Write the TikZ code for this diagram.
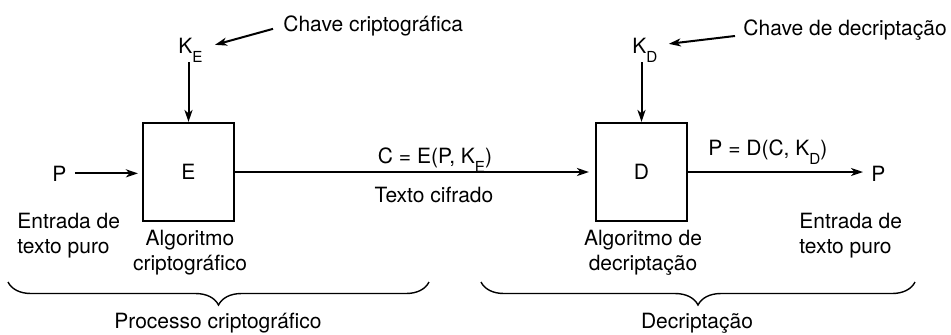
\documentclass[tikz,border=0pt]{standalone}
\usepackage{fontspec}
\setmainfont{TeX Gyre Heros}
\usetikzlibrary{arrows.meta,decorations.pathreplacing}
\newcommand\lsub[1]{\raisebox{-4.5pt}{\fontsize{7.6}{8}\selectfont #1}}
\begin{document}
\begin{tikzpicture}[x=0.5pt,y=-0.5pt]
\tikzset{
  txt/.style={inner sep=0pt, font=\fontsize{10.5}{12.5}\selectfont},
  box/.style={draw, line width=1.05pt, minimum width=45.5pt, minimum height=49pt, inner sep=0pt, font=\fontsize{10.5}{12.5}\selectfont},
  arr/.style={line width=1pt, -{Stealth[length=6pt,width=4pt,inset=1.7pt]}},
  brc/.style={line width=0.7pt, decorate, decoration={brace,mirror,amplitude=11.5pt}}
}
\useasboundingbox (0,0) rectangle (951,334);
% boxes
\node[box] (E) at (188.5,172) {E};
\node[box] (D) at (641.5,172) {D};
% single-line texts
\node[txt, anchor=base west] (P1) at (52,181) {P};
\node[txt, anchor=base west] (P2) at (871,181) {P};
\node[txt, anchor=base west] (KE) at (178,53) {K\lsub{E}};
\node[txt, anchor=base west] (KD) at (632,53) {K\lsub{D}};
\node[txt, anchor=base west] (CE) at (283,31) {Chave criptográfica};
\node[txt, anchor=base west] (CD) at (743,35) {Chave de decriptação};
\node[txt, anchor=base] (ce) at (435,163) {C = E(P, K\lsub{E})};
\node[txt, anchor=base] (tc) at (434,202) {Texto cifrado};
\node[txt, anchor=base west] (pd) at (708,155) {P = D(C, K\lsub{D})};
% multi-line texts (base = last line)
\node[txt, anchor=base west, align=left] (in1) at (17,253) {Entrada de\\texto puro};
\node[txt, anchor=base, align=center] (alg1) at (190,270) {Algoritmo\\criptográfico};
\node[txt, anchor=base west, align=left] (in2) at (799,253) {Entrada de\\texto puro};
\node[txt, anchor=base, align=center] (alg2) at (643,270) {Algoritmo de\\decriptação};
\node[txt, anchor=base] (pc) at (218,328) {Processo criptográfico};
\node[txt, anchor=base] (dc) at (697,328) {Decriptação};
% arrows
\draw[arr, shorten <=4pt, shorten >=2pt] (P1.east) -- (P1.east -| E.west);
\draw[arr, shorten >=3pt] (E.east) -- (D.west);
\draw[arr, shorten >=4pt] (D.east) -- (D.east -| P2.west);
\draw[arr] (E.north |- KE.south) -- (E.north);
\draw[arr] (D.north |- KD.south) -- (D.north);
\draw[arr] ([shift={(-10,3.4)}]CE.west) -- ([shift={(12,-5)}]KE.east);
\draw[arr] ([shift={(-8,6.4)}]CD.west) -- ([shift={(11,-6)}]KD.east);
% braces
\coordinate (b1a) at (8,282);
\coordinate (b1b) at (429,282);
\coordinate (b2a) at (481,282);
\coordinate (b2b) at (915,282);
\draw[brc] (b1a) -- (b1b);
\draw[brc] (b2a) -- (b2b);
\end{tikzpicture}
\end{document}
